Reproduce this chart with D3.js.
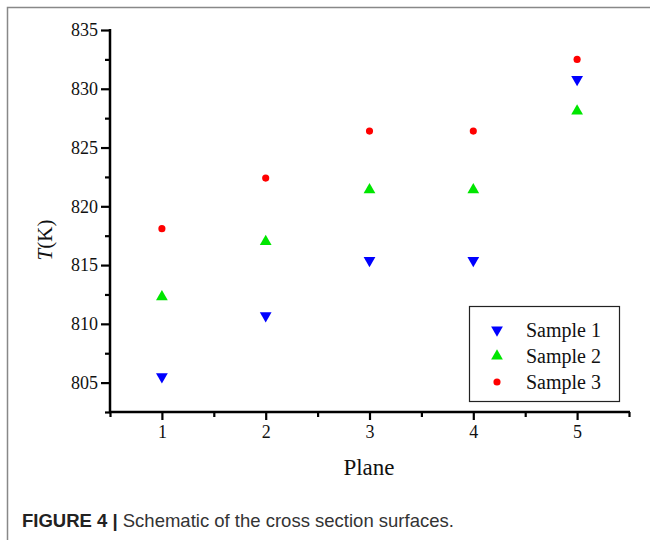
<!DOCTYPE html>
<html><head><meta charset="utf-8">
<script src="https://cdn.jsdelivr.net/npm/d3@7"></script>
<style>body{margin:0;background:#fff}svg{display:block}</style>
</head><body>
<svg id="c" width="650" height="540"></svg>
<script>
const planes = [1, 2, 3, 4, 5];
const sample1 = [805.5, 810.7, 815.4, 815.4, 830.8];
const sample2 = [812.3, 817.0, 821.4, 821.4, 828.1];
const sample3 = [818.1, 822.4, 826.4, 826.4, 832.5];
const seriesNames = ["Sample 1", "Sample 2", "Sample 3"];
const seriesColors = ["#0000ff", "#00e600", "#ff0000"];
const yTickLabels = [805, 810, 815, 820, 825, 830, 835];
const xTickLabels = [1, 2, 3, 4, 5];

const svg = d3.select("#c");
// outer frame
svg.append("path").attr("d", "M7.5,540 V7.5 H650").attr("fill", "none").attr("stroke", "#888").attr("stroke-width", 1.5);

const x = d3.scaleLinear().domain([0.5, 5.5]).range([110, 629]);
const y = d3.scaleLinear().domain([802.5, 835]).range([412, 30]);

const g = svg.append("g");
const yMinor = d3.range(802.5, 835.01, 2.5).filter(v => Math.abs(v % 5) > 0.01);
const xMinor = d3.range(0.5, 5.51, 1);
const yAxisMinor = d3.axisLeft(y).tickValues(yMinor).tickSize(5).tickFormat("");
const xAxisMinor = d3.axisBottom(x).tickValues(xMinor).tickSize(5).tickFormat("");
g.append("g").attr("transform", "translate(110,0)").call(yAxisMinor);
g.append("g").attr("transform", "translate(0,412)").call(xAxisMinor);
const yAxis = d3.axisLeft(y).tickValues(yTickLabels).tickSize(9).tickPadding(3).tickFormat(d3.format("d"));
const xAxis = d3.axisBottom(x).tickValues(xTickLabels).tickSize(8).tickPadding(5).tickFormat(d3.format("d"));
g.append("g").attr("class", "ya").attr("transform", "translate(110,0)").call(yAxis);
g.append("g").attr("class", "xa").attr("transform", "translate(0,412)").call(xAxis);
g.selectAll(".tick line").attr("stroke", "#000").attr("stroke-width", 2.2);
g.selectAll(".tick text").attr("font-family", "Liberation Serif").attr("font-size", 18).attr("fill", "#111");
g.selectAll(".domain").remove();
g.append("line").attr("x1", 110).attr("x2", 110).attr("y1", y(835) - 1).attr("y2", 413).attr("stroke", "#000").attr("stroke-width", 2.5);
g.append("line").attr("x1", 109).attr("x2", 630).attr("y1", 412).attr("y2", 412).attr("stroke", "#000").attr("stroke-width", 2.5);

// axis titles
svg.append("text").attr("transform", "translate(52,240) rotate(-90)").attr("text-anchor", "middle")
  .attr("font-family", "Liberation Serif").attr("font-size", 21).attr("fill", "#111")
  .html('<tspan font-style="italic">T</tspan>(K)');
svg.append("text").attr("x", 369).attr("y", 475).attr("text-anchor", "middle")
  .attr("font-family", "Liberation Serif").attr("font-size", 23).attr("fill", "#111").text("Plane");

const data = [sample1, sample2, sample3];
const symTri = d3.symbol().type(d3.symbolTriangle).size(60);
const symCircle = d3.symbol().type(d3.symbolCircle).size(40);
function marker(sel, i) {
  if (i === 2) sel.attr("d", symCircle());
  else sel.attr("d", symTri());
  if (i === 0) sel.attr("transform", sel.attr("transform") + " rotate(180)");
}
data.forEach((vals, i) => {
  planes.forEach((p, j) => {
    const m = svg.append("path").attr("fill", seriesColors[i])
      .attr("transform", `translate(${x(p)},${y(vals[j])})`);
    marker(m, i);
  });
});

// legend
svg.append("rect").attr("x", 469.5).attr("y", 306.5).attr("width", 150).attr("height", 95)
  .attr("fill", "#fff").attr("stroke", "#222").attr("stroke-width", 1.2);
seriesNames.forEach((n, i) => {
  const ly = 330 + i * 26;
  const m = svg.append("path").attr("fill", seriesColors[i]).attr("transform", `translate(497,${ly})`);
  marker(m, i);
  svg.append("text").attr("x", 526).attr("y", ly + 7).attr("font-family", "Liberation Serif")
    .attr("font-size", 20).attr("fill", "#111").text(n);
});

// caption
svg.append("text").attr("x", 22).attr("y", 527).attr("font-family", "Liberation Sans").attr("font-size", 18.5)
  .attr("fill", "#333")
  .html('<tspan font-weight="bold" fill="#222">FIGURE 4 | </tspan><tspan>Schematic of the cross section surfaces.</tspan>');
</script>
</body></html>
